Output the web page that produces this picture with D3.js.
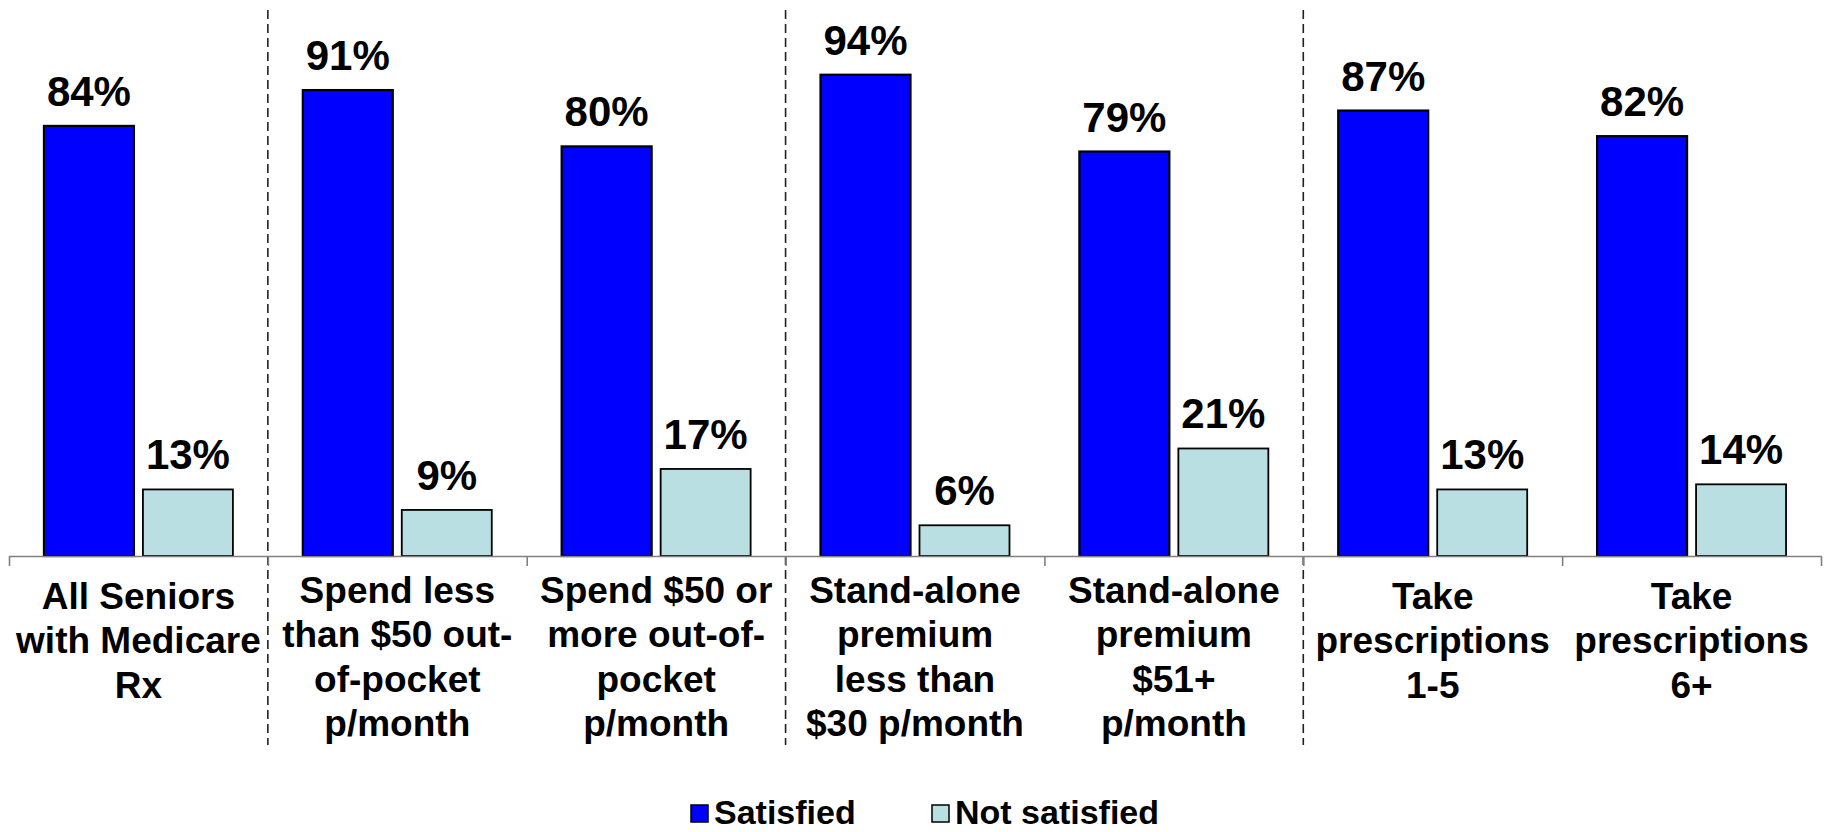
<!DOCTYPE html>
<html><head><meta charset="utf-8">
<script src="https://cdn.jsdelivr.net/npm/d3@7/dist/d3.min.js"></script>
<style>
body{margin:0;background:#fff;}
text{font-family:"Liberation Sans",Arial,sans-serif;font-weight:bold;fill:#000;}
</style>
</head><body>
<svg id="chart" width="1834" height="832"></svg>
<script>
const categories = [
  ["All Seniors", "with Medicare", "Rx"],
  ["Spend less", "than $50 out-", "of-pocket", "p/month"],
  ["Spend $50 or", "more out-of-", "pocket", "p/month"],
  ["Stand-alone", "premium", "less than", "$30 p/month"],
  ["Stand-alone", "premium", "$51+", "p/month"],
  ["Take", "prescriptions", "1-5"],
  ["Take", "prescriptions", "6+"]
];
const seriesNames = ["Satisfied", "Not satisfied"];
const satisfied = [84, 91, 80, 94, 79, 87, 82];
const notSatisfied = [13, 9, 17, 6, 21, 13, 14];
const groupSeparators = [1, 3, 5];
const colors = {"Satisfied": "#0000FF", "Not satisfied": "#B9DFE2"};

const svg = d3.select("#chart");
const left = 9, right = 1821, baseY = 556, topY = 44;

const idx = categories.map((d, i) => i);
const x0 = d3.scaleBand().domain(idx).range([left, right]).padding(0);
const xb = d3.scaleLinear().domain([0, categories.length]).range([left, right]);
const bw = x0.bandwidth();
const x1 = d3.scaleBand().domain(seriesNames).range([bw * 0.135, bw * 0.865]).paddingInner(0.0909);
const y = d3.scaleLinear().domain([0, 100]).range([baseY, topY]);

const data = idx.map(i => ({i, values: [
  {s: "Satisfied", v: satisfied[i]},
  {s: "Not satisfied", v: notSatisfied[i]}
]}));

// dashed separators
svg.append("g").selectAll("line").data(groupSeparators).join("line")
  .attr("x1", d => xb(d)).attr("x2", d => xb(d))
  .attr("y1", 10).attr("y2", 745)
  .attr("stroke", "#222").attr("stroke-width", 1.6)
  .attr("stroke-dasharray", "9,5");

// bars
const g = svg.append("g").selectAll("g").data(data).join("g")
  .attr("transform", d => `translate(${x0(d.i)},0)`);
g.selectAll("rect").data(d => d.values).join("rect")
  .attr("x", d => x1(d.s)).attr("width", x1.bandwidth())
  .attr("y", d => y(d.v)).attr("height", d => y(0) - y(d.v))
  .attr("fill", d => colors[d.s])
  .attr("stroke", "#000").attr("stroke-width", d => d.s === "Satisfied" ? 2.2 : 1.8);
g.selectAll("text").data(d => d.values).join("text")
  .attr("x", d => x1(d.s) + x1.bandwidth() / 2)
  .attr("y", d => y(d.v) - 20)
  .attr("text-anchor", "middle")
  .style("font-size", "42px")
  .text(d => d.v + "%");

// axis
const axis = d3.axisBottom(xb).tickValues(d3.range(0, categories.length + 1))
  .tickSize(10).tickSizeOuter(0).tickFormat("");
const ax = svg.append("g").attr("transform", `translate(0,${baseY})`).call(axis);
ax.select(".domain").attr("stroke", "#808080").attr("stroke-width", 1.6);
ax.selectAll(".tick line").attr("stroke", "#808080").attr("stroke-width", 1.6);

// category labels
const cl = svg.append("g").selectAll("text").data(idx).join("text")
  .attr("text-anchor", "middle")
  .style("font-size", "37px")
  .attr("transform", i => `translate(${x0(i) + bw / 2},${categories[i].length === 4 ? 603 : 609})`);
cl.selectAll("tspan").data(i => categories[i]).join("tspan")
  .attr("x", 0).attr("y", (d, j) => j * 44.3)
  .text(d => d);

// legend
const legendX = [691, 932];
const lg = svg.append("g").selectAll("g").data(seriesNames).join("g")
  .attr("transform", (d, i) => `translate(${legendX[i]},0)`);
lg.append("rect").attr("x", 0).attr("y", 805).attr("width", 17).attr("height", 17)
  .attr("fill", d => colors[d]).attr("stroke", "#000").attr("stroke-width", 1.5);
lg.append("text").attr("x", 23).attr("y", 824).style("font-size", "34px").text(d => d);
</script>
</body></html>
